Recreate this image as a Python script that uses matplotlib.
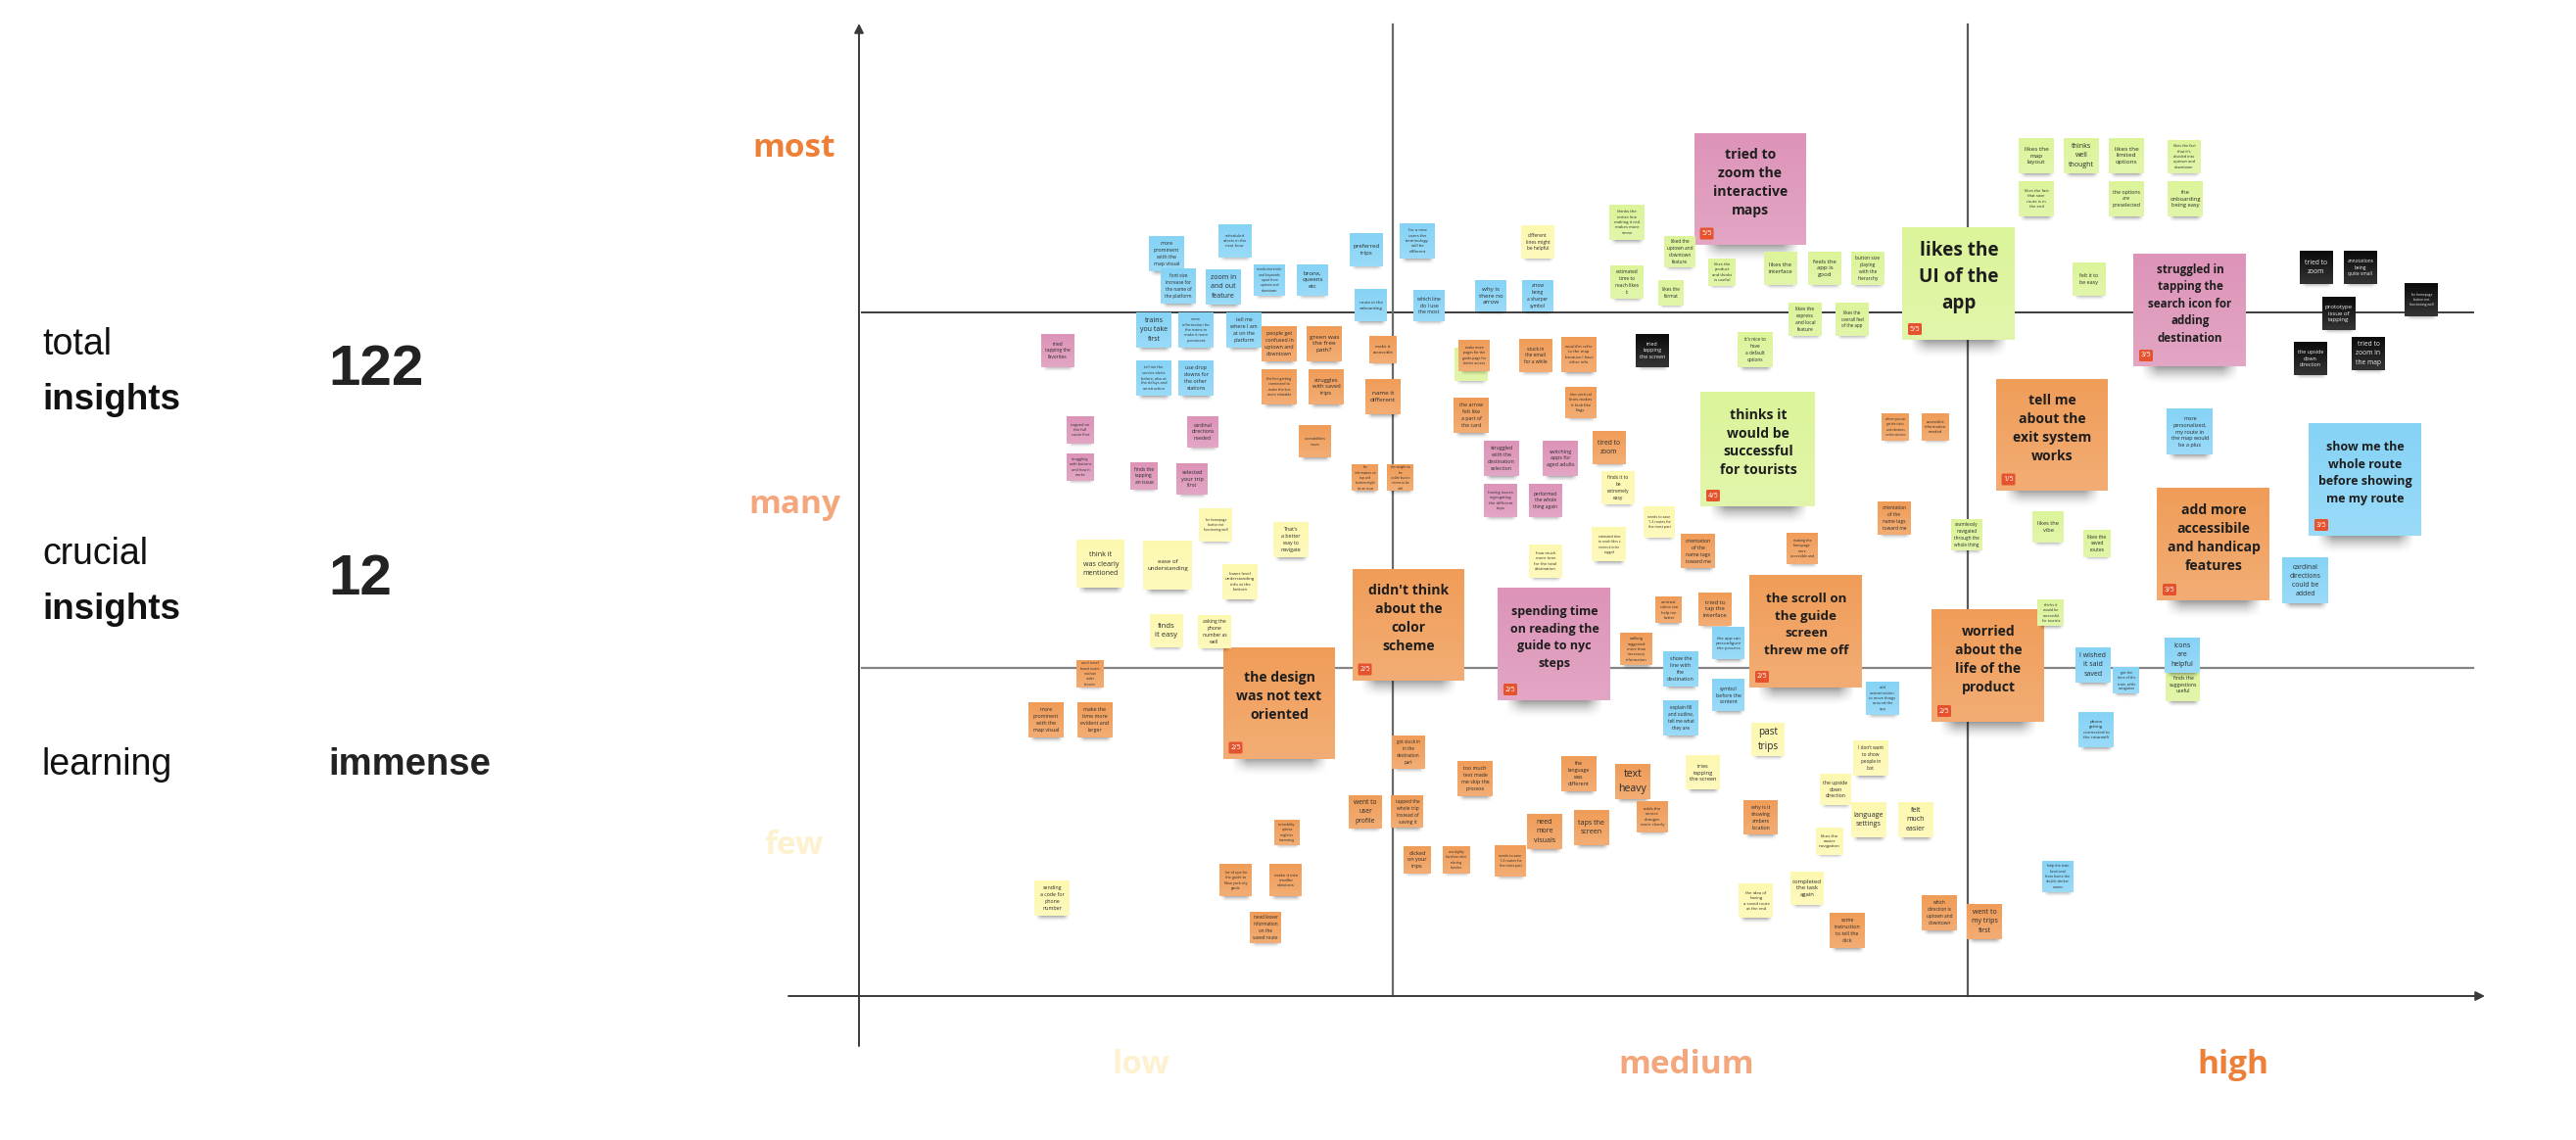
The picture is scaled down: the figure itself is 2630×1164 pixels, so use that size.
"""
Insight matrix: sticky notes placed by frequency (y) and severity (x).
Note positions are read from the picture, in pixels of the 2630x1164 board.
"""
import numpy as np
import matplotlib
matplotlib.use("Agg")
import matplotlib.pyplot as plt
from matplotlib.colors import to_rgb
from matplotlib.patches import FancyBboxPatch

# ── Side panel ───────────────────────────────────────────────────────────────
side_labels = [("total", "insights", 352, 409), ("crucial", "insights", 566, 623), ("learning", "", 781, 781)]
side_values = [("122", 378, 42), ("12", 592, 42), ("immense", 781, 27.5)]

# ── Axis words ───────────────────────────────────────────────────────────────
y_words = ["most", "many", "few"]
y_word_pos = [151, 515, 863]
x_words = ["low", "medium", "high"]
x_word_pos = [1165, 1722, 2280]
word_colors = ["#EE7F37", "#F4A77C", "#FDF1CF"]

# ── Big notes (text, x, y, width, colour, votes) ─────────────────────────────
big_notes = [
    ("tried to\nzoom the\ninteractive\nmaps", 1787, 193, 114, "pink", "5/5"),
    ("likes the\nUI of the\napp", 2000, 290, 115, "green", "5/5"),
    ("struggled in\ntapping the\nsearch icon for\nadding\ndestination", 2236, 317, 115, "pink", "3/5"),
    ("thinks it\nwould be\nsuccessful\nfor tourists", 1795, 459, 117, "green", "4/5"),
    ("tell me\nabout the\nexit system\nworks", 2095, 444, 114, "orange", "1/5"),
    ("show me the\nwhole route\nbefore showing\nme my route", 2415, 490, 115, "blue", "3/5"),
    ("add more\naccessibile\nand handicap\nfeatures", 2260, 556, 115, "orange", "3/5"),
    ("didn't think\nabout the\ncolor\nscheme", 1438, 638, 114, "orange", "2/5"),
    ("the design\nwas not text\noriented", 1306, 718, 114, "orange", "2/5"),
    ("spending time\non reading the\nguide to nyc\nsteps", 1587, 658, 115, "pink", "2/5"),
    ("the scroll on\nthe guide\nscreen\nthrew me off", 1844, 645, 115, "orange", "2/5"),
    ("worried\nabout the\nlife of the\nproduct", 2030, 680, 115, "orange", "2/5"),
]

# ── Small notes by colour (text, x, y, width) ────────────────────────────────
green_notes = [
    ("thinks the\nentire line\nmaking it red\nmakes more\nsense", 1661, 227, 36),
    ("liked the\nuptown and\ndowntown\nfeature", 1715, 257, 32),
    ("estimated\ntime to\nreach likes\nit", 1661, 288, 34),
    ("likes the\nformat", 1706, 299, 26),
    ("likes the\nproduct\nand thinks\nis useful", 1758, 278, 28),
    ("likes the\ninterface", 1818, 274, 34),
    ("feels the\napp is\ngood", 1863, 274, 34),
    ("button size\nplaying\nwith the\nhierarchy", 1907, 274, 34),
    ("likes the\nexpress\nand local\nfeature", 1843, 326, 34),
    ("likes the\noverall feel\nof the app", 1891, 326, 34),
    ("it's nice to\nhave\na default\noptions", 1792, 357, 36),
    ("likes the\nmap\nlayout", 2079, 159, 36),
    ("thinks\nwell\nthought", 2125, 159, 36),
    ("likes the\nlimited\noptions", 2171, 159, 36),
    ("likes the fact\nthat it's\ndivided into\nuptown and\ndowntown", 2230, 160, 34),
    ("likes the fact\nthat save\nroute is in\nthe end", 2079, 203, 36),
    ("the options\nare\npreselected", 2171, 203, 36),
    ("the\nonboarding\nbeing easy", 2231, 203, 36),
    ("felt it to\nbe easy", 2133, 285, 34),
    ("likes the\nvibe", 2091, 538, 32),
    ("likes the\nsaved\nroutes", 2141, 555, 28),
    ("thinks it\nwould be\nsuccessful\nfor tourists", 2094, 626, 27),
    ("finds the\nsuggestions\nuseful", 2229, 699, 35),
    ("seamlessly\nnavigated\nthrough the\nwhole thing", 2008, 546, 32),
    ("", 1502, 372, 34),  # text hidden behind the orange note on top of it
]
yellow_notes = [
    ("the homepage\nbutton not\nfunctioning well", 1241, 536, 34),
    ("That's\na better\nway to\nnavigate", 1318, 551, 36),
    ("think it\nwas clearly\nmentioned", 1124, 576, 49),
    ("ease of\nunderstanding", 1192, 577, 50),
    ("lower level\nunderstanding\ninfo at the\nbottom", 1266, 594, 36),
    ("finds\nit easy", 1191, 644, 34),
    ("asking the\nphone\nnumber as\nwell", 1240, 645, 34),
    ("sending\na code for\nphone\nnumber", 1074, 917, 36),
    ("different\nlines might\nbe helpful", 1570, 247, 34),
    ("finds it to\nbe\nextremely\neasy", 1652, 498, 34),
    ("needs to save\n1-3 routes for\nthe most part", 1694, 533, 32),
    ("estimated time\nto reach likes it\nseems it to be\ntagged", 1643, 556, 35),
    ("how much\nmore time\nfor the total\ndestination", 1578, 573, 34),
    ("past\ntrips", 1805, 755, 34),
    ("tries\ntapping\nthe screen", 1739, 789, 35),
    ("I don't want\nto show\npeople in\nlost", 1910, 774, 36),
    ("the upside\ndown\ndirection", 1874, 806, 32),
    ("language\nsettings", 1908, 837, 36),
    ("felt\nmuch\neasier", 1956, 837, 36),
    ("likes the\neasier\nnavigation", 1868, 859, 28),
    ("the idea of\nhaving\na saved route\nat the end", 1793, 920, 35),
    ("completed\nthe task\nagain", 1845, 907, 34),
]
pink_notes = [
    ("tried\ntapping the\nfavorites", 1080, 358, 34),
    ("tapped on\nthe full\nroute first", 1103, 439, 28),
    ("struggling\nwith buttons\nand how it\nworks", 1103, 477, 28),
    ("cardinal\ndirections\nneeded", 1228, 441, 32),
    ("finds the\ntapping\nan issue", 1168, 486, 28),
    ("selected\nyour trip\nfirst", 1217, 489, 32),
    ("struggled\nwith the\ndestination\nselection", 1533, 468, 36),
    ("switching\napps for\naged adults", 1593, 468, 36),
    ("having issues\nsegregating\nthe different\ntrips", 1532, 511, 34),
    ("performed\nthe whole\nthing again", 1578, 511, 34),
]
orange_notes = [
    ("people get\nconfused in\nuptown and\ndowntown", 1306, 351, 36),
    ("green was\nthe free\npath?", 1352, 351, 36),
    ("the line getting\nconnected to\nmake the line\nmore relatable", 1306, 395, 36),
    ("struggles\nwith saved\ntrips", 1354, 395, 36),
    ("make it\naccessible", 1412, 357, 28),
    ("name it\ndifferent", 1412, 405, 36),
    ("accessibilities\nissues", 1343, 451, 33),
    ("the\ninformation on\ntop and\nbottom might\nbe an issue", 1394, 488, 27),
    ("the weight on\nthe\nvisible button\nseems to be\nodd", 1430, 488, 27),
    ("make more\npages for the\nguide page for\nbetter access", 1505, 363, 32),
    ("the arrow\nfelt like\na part of\nthe card", 1502, 424, 36),
    ("stuck in\nthe email\nfor a while", 1568, 363, 34),
    ("would'nt refer\nto the map\nbecause I have\nother info", 1612, 362, 36),
    ("the vertical\nlines makes\nit look like\nflags", 1614, 411, 32),
    ("tired to\nzoom", 1643, 457, 34),
    ("where you can\nget the stairs\nand elevators\non the stations", 1935, 436, 28),
    ("accessible\ninformation\nneeded", 1976, 436, 28),
    ("orientation\nof the\nname tags\ntoward me", 1934, 529, 34),
    ("orientation\nof the\nname tags\ntoward me", 1734, 563, 35),
    ("making the\nhomepage\nmore\naccessible and", 1840, 560, 32),
    ("contrast\nratios can\nhelp me\nbetter", 1704, 623, 27),
    ("tried to\ntap the\ninterface", 1751, 622, 34),
    ("walking\nsuggested\nmore than\nnecessary\ninformation", 1671, 663, 33),
    ("won't travel\nbased routes\nnow/use\nunder\nbecome", 1113, 688, 28),
    ("more\nprominent\nwith the\nmap visual", 1068, 735, 36),
    ("make the\ntime more\nevident and\nlarger", 1118, 735, 36),
    ("got stuck in\nin the\ndestination\npart", 1438, 768, 34),
    ("went to\nuser\nprofile", 1394, 829, 34),
    ("tapped the\nwhole trip\ninstead of\nsaving it", 1437, 829, 33),
    ("accessibility\noptions\nmight be\ninteresting", 1314, 850, 26),
    ("lot of ups for\nthe guide to\nNew york city\nguide", 1262, 899, 33),
    ("make it into\nsmaller\ndivisions", 1313, 899, 33),
    ("need lesser\ninformation\non the\nsaved route", 1292, 947, 32),
    ("clicked\non your\ntrips", 1447, 878, 28),
    ("was slightly\nhard/over after\nselecting\nfavorites", 1487, 878, 28),
    ("too much\ntext made\nme skip the\nprocess", 1506, 795, 36),
    ("the\nlanguage\nwas\ndifferent", 1612, 790, 36),
    ("text\nheavy", 1667, 798, 36),
    ("adds the\nservice\nchanges\nmore clearly", 1687, 834, 32),
    ("need\nmore\nvisuals", 1577, 849, 36),
    ("taps the\nscreen", 1625, 845, 36),
    ("why is it\nshowing\nambers\nlocation", 1798, 835, 35),
    ("needs to save\n1-3 routes for\nthe most part", 1542, 879, 32),
    ("some\ninstruction\nto tell the\nclick", 1886, 950, 36),
    ("which\ndirection is\nuptown and\ndowntown", 1980, 932, 36),
    ("went to\nmy trips\nfirst", 2026, 941, 36),
]
blue_notes = [
    ("more\nprominent\nwith the\nmap visual", 1191, 259, 36),
    ("scheduled\nalerts in the\nnext hour", 1261, 246, 34),
    ("font size\nincrease for\nthe name of\nthe platform", 1203, 292, 36),
    ("zoom in\nand out\nfeature", 1249, 293, 36),
    ("needs more info\nand keywords\napart from\nuptown and\ndowntown", 1296, 286, 32),
    ("bronx,\nqueens\netc", 1340, 286, 32),
    ("preferred\ntrips", 1395, 255, 34),
    ("for a new\nusers the\nterminology\nwill be\ndifferent", 1447, 246, 36),
    ("route in the\nonboarding", 1400, 312, 33),
    ("which line\ndo I use\nthe most", 1459, 312, 32),
    ("trains\nyou take\nfirst", 1178, 337, 36),
    ("some\ninformation for\nthe trains to\nmake it more\nprominent", 1221, 337, 36),
    ("tell me\nwhere I am\nat on the\nplatform", 1270, 337, 36),
    ("tell me the\nservice alerts\nbefore, also at\nthe delays and\nconstruction", 1178, 386, 36),
    ("use drop\ndowns for\nthe other\nstations", 1221, 386, 36),
    ("why is\nthere no\narrow", 1522, 302, 32),
    ("arrow\nbeing\na sharper\nsymbol", 1570, 302, 32),
    ("more\npersonalized,\nmy route in\nthe map would\nbe a plus", 2236, 441, 47),
    ("cardinal\ndirections\ncould be\nadded", 2354, 593, 47),
    ("I wished\nit said\nsaved", 2137, 679, 36),
    ("got the\ntime of the\ntrain, while\nnavigation", 2171, 695, 27),
    ("icons\nare\nhelpful", 2228, 669, 36),
    ("phone\ngetting\nconnected to\nthe rotanwifi", 2140, 745, 36),
    ("add\ncustomization\nto move things\naround the\napp", 1922, 713, 34),
    ("show the\nline with\nthe\ndestination", 1716, 683, 36),
    ("the app can\npreconfigure\nthe process", 1765, 657, 33),
    ("symbol\nbefore the\ncontent", 1765, 710, 33),
    ("explain fill\nand outline,\ntell me what\nthey are", 1716, 733, 36),
    ("help the train\nfunctional\nfrom home the\ndouble-decker\ncomes", 2101, 895, 32),
]
black_notes = [
    ("tried\ntapping\nthe screen", 1687, 358, 34),
    ("tried to\nzoom", 2365, 273, 34),
    ("annotations\nbeing\nquite small", 2410, 273, 34),
    ("prototype\nissue of\ntapping", 2388, 320, 34),
    ("the homepage\nbutton not\nfunctioning well", 2472, 306, 34),
    ("the upside\ndown\ndirection", 2359, 366, 34),
    ("tried to\nzoom in\nthe map", 2418, 361, 34),
]

# ── Style ────────────────────────────────────────────────────────────────────
DPI = 100
W, H = 2630, 1164
NOTE_COLORS = {"pink": "#DD94B8", "green": "#DCF49A", "blue": "#86D3F6",
               "orange": "#F09D59", "yellow": "#FDF8B0", "black": "#0C0C0C"}
NOTE_FONT = "Open Sans"
SIDE_FONT = "Liberation Sans"

plt.rcParams["font.family"] = [NOTE_FONT, "DejaVu Sans"]

fig = plt.figure(figsize=(W / DPI, H / DPI), dpi=DPI)
ax = fig.add_axes([0, 0, 1, 1])
ax.axis("off")

# vertical fade used for the soft shadow under each note
shadow_rgba = np.zeros((24, 32, 4))
fade_y = np.linspace(1, 0, 24) ** 1.6
fade_x = np.minimum(np.minimum(np.linspace(0, 1, 32), np.linspace(1, 0, 32)) * 6, 1)
shadow_rgba[..., 3] = 0.42 * np.outer(fade_y, fade_x)

z = [10]


def draw_note(text, x, y, w, color_name, big=False, votes=None):
    left, top = x - w / 2, y - w / 2
    right, bottom = x + w / 2, y + w / 2
    base = np.array(to_rgb(NOTE_COLORS[color_name]))
    z[0] += 1

    # shadow
    depth = w * 0.16
    inset = w * (0.06 if big else 0.02)
    ax.imshow(shadow_rgba, extent=(left + inset, right - inset, bottom + depth, bottom - 1),
              aspect="auto", interpolation="bilinear", zorder=z[0])

    # paper, a little lighter toward the bottom
    t = np.linspace(0, 0.16, 12)[:, None, None]
    paper = base[None, None, :] * (1 - t) + t
    ax.imshow(paper, extent=(left, right, bottom, top), aspect="auto",
              interpolation="bilinear", zorder=z[0] + 0.1)

    if not text:
        return

    lines = text.split("\n")
    chars = max(len(s) for s in lines)
    if big:
        # short three-line notes get the largest type on the board
        cap = 19 if (len(lines) == 3 and chars <= 9) else 14
        em = min(w * 0.85 / (chars * 0.56), cap)
        ax.text(x, y - w * 0.06, text, ha="center", va="center", fontsize=em * 72 / DPI,
                fontweight="bold", color="#1E1E1E", linespacing=1.45, zorder=z[0] + 0.2)
        badge = FancyBboxPatch((left + 6, bottom - 17), 13, 11, boxstyle="round,pad=0.5,rounding_size=1.5",
                               fc="#E4532E", ec="none", zorder=z[0] + 0.2)
        ax.add_patch(badge)
        ax.text(left + 12.5, bottom - 11.5, votes, ha="center", va="center", fontsize=5,
                color="white", zorder=z[0] + 0.3)
    else:
        em = min(w * 0.8 / (chars * 0.5), w * 0.85 / (len(lines) * 1.45), 11)
        color = "#F0F0F0" if color_name == "black" else "#2B2B2B"
        ax.text(x, y, text, ha="center", va="center", fontsize=em * 72 / DPI,
                color=color, linespacing=1.45, zorder=z[0] + 0.2)


# ── Axes and quadrant lines ──────────────────────────────────────────────────
ax.plot([880, 2525], [319, 319], color="#3C3C3C", lw=1.4, zorder=2)
ax.plot([880, 2525], [682, 682], color="#858585", lw=1.6, zorder=2)
ax.plot([1422, 1422], [25, 1017], color="#6A6A6A", lw=1.6, zorder=2)
ax.plot([2009, 2009], [25, 1017], color="#5A5A5A", lw=1.6, zorder=2)

for start, end in [((877, 1068), (877, 24)), ((805, 1017), (2537, 1017))]:
    ax.annotate("", xy=end, xytext=start, zorder=3,
                arrowprops=dict(arrowstyle="-|>,head_length=0.55,head_width=0.28", color="#3A3A3A",
                                lw=1.4, shrinkA=0, shrinkB=0))

for word, pos, c in zip(y_words, y_word_pos, word_colors):
    ax.text(811, pos, word, ha="center", va="center", fontsize=24, fontweight="bold", color=c)
for word, pos, c in zip(x_words, x_word_pos, reversed(word_colors)):
    ax.text(pos, 1087, word, ha="center", va="center", fontsize=24, fontweight="bold", color=c)

# ── Notes ────────────────────────────────────────────────────────────────────
for text, x, y, w, color_name, votes in big_notes:
    draw_note(text, x, y, w, color_name, big=True, votes=votes)

for notes, color_name in [(green_notes, "green"), (yellow_notes, "yellow"), (pink_notes, "pink"),
                          (orange_notes, "orange"), (blue_notes, "blue"), (black_notes, "black")]:
    for text, x, y, w in notes:
        draw_note(text, x, y, w, color_name)

# ── Side panel ───────────────────────────────────────────────────────────────
for top_word, bold_word, y1, y2 in side_labels:
    ax.text(43, y1, top_word, ha="left", va="center", fontsize=27, color="#111111", family=SIDE_FONT)
    if bold_word:
        ax.text(43, y2, bold_word, ha="left", va="center", fontsize=26.5, fontweight="bold",
                color="#111111", family=SIDE_FONT)
for value, y, size in side_values:
    ax.text(335, y, value, ha="left", va="center", fontsize=size, fontweight="bold",
            color="#222222", family=SIDE_FONT)

ax.set_xlim(0, W)
ax.set_ylim(H, 0)
fig.savefig("out.png", dpi=DPI, facecolor="white")
